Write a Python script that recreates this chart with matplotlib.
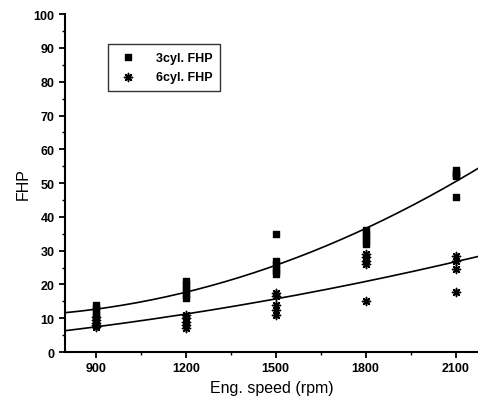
import matplotlib
matplotlib.use("Agg")
import matplotlib.pyplot as plt
from matplotlib.ticker import MultipleLocator
import numpy as np

plt.rcParams['font.family'] = ['Liberation Sans', 'DejaVu Sans']

speed_3cyl = [900, 900, 900, 900, 900,
              1200, 1200, 1200, 1200, 1200, 1200,
              1500, 1500, 1500, 1500, 1500, 1500,
              1800, 1800, 1800, 1800, 1800,
              2100, 2100, 2100, 2100, 2100]
fhp_3cyl = [14, 13, 12, 11, 10,
            21, 20, 19, 18, 17, 16,
            35, 27, 26, 25, 24, 23,
            36, 35, 34, 33, 32,
            54, 53, 52.5, 52, 46]

speed_6cyl = [900, 900, 900, 900, 900,
              1200, 1200, 1200, 1200, 1200,
              1500, 1500, 1500, 1500, 1500,
              1800, 1800, 1800, 1800, 1800,
              2100, 2100, 2100, 2100]
fhp_6cyl = [10.5, 9.5, 8.5, 8, 7.5,
            11, 10, 9, 8, 7,
            17.5, 16.5, 14, 12.5, 11,
            29, 28, 27, 26, 15,
            28.5, 27, 24.5, 17.7]

x_ticks = [900, 1200, 1500, 1800, 2100]

fig = plt.figure(figsize=(4.78, 4.10), dpi=100)
ax = fig.add_axes([0.136, 0.139, 0.864, 0.824])

ax.scatter(speed_3cyl, fhp_3cyl, marker='s', s=20, color='black', label='3cyl. FHP', zorder=3)
ax.scatter(speed_6cyl, fhp_6cyl, marker=(8, 2, 0), s=34, color='black', linewidths=1.1,
           label='6cyl. FHP', zorder=3)

# second order fits, like the original
xs = np.linspace(797, 2175, 200)
p3 = np.polyfit(speed_3cyl, fhp_3cyl, 2)
p6 = np.polyfit(speed_6cyl, fhp_6cyl, 2)
ax.plot(xs, np.polyval(p3, xs), color='black', lw=1.2)
ax.plot(xs, np.polyval(p6, xs), color='black', lw=1.2)

ax.set_xlim(797, 2175)
ax.set_ylim(0, 100)
ax.set_xticks(x_ticks)
ax.xaxis.set_minor_locator(MultipleLocator(150))
ax.yaxis.set_major_locator(MultipleLocator(10))
ax.yaxis.set_minor_locator(MultipleLocator(5))

for s in ['top', 'right']:
    ax.spines[s].set_visible(False)
for s in ['left', 'bottom']:
    ax.spines[s].set_linewidth(1.5)

ax.tick_params(which='major', direction='out', length=4, width=1.3, labelsize=9)
ax.tick_params(which='minor', direction='out', length=2.5, width=1.0)
for lab in ax.get_xticklabels() + ax.get_yticklabels():
    lab.set_fontweight('bold')

ax.set_xlabel('Eng. speed (rpm)', fontsize=11.5, labelpad=4)
ax.set_ylabel('FHP', fontsize=11.5, labelpad=2)

leg = ax.legend(loc='upper left', bbox_to_anchor=(0.09, 0.93), fontsize=9,
                frameon=True, fancybox=False, edgecolor='black',
                handletextpad=1.2, borderpad=0.6, labelspacing=0.6)
leg.get_frame().set_linewidth(1.0)
for t in leg.get_texts():
    t.set_fontweight('bold')

fig.savefig('out.png', dpi=100)
